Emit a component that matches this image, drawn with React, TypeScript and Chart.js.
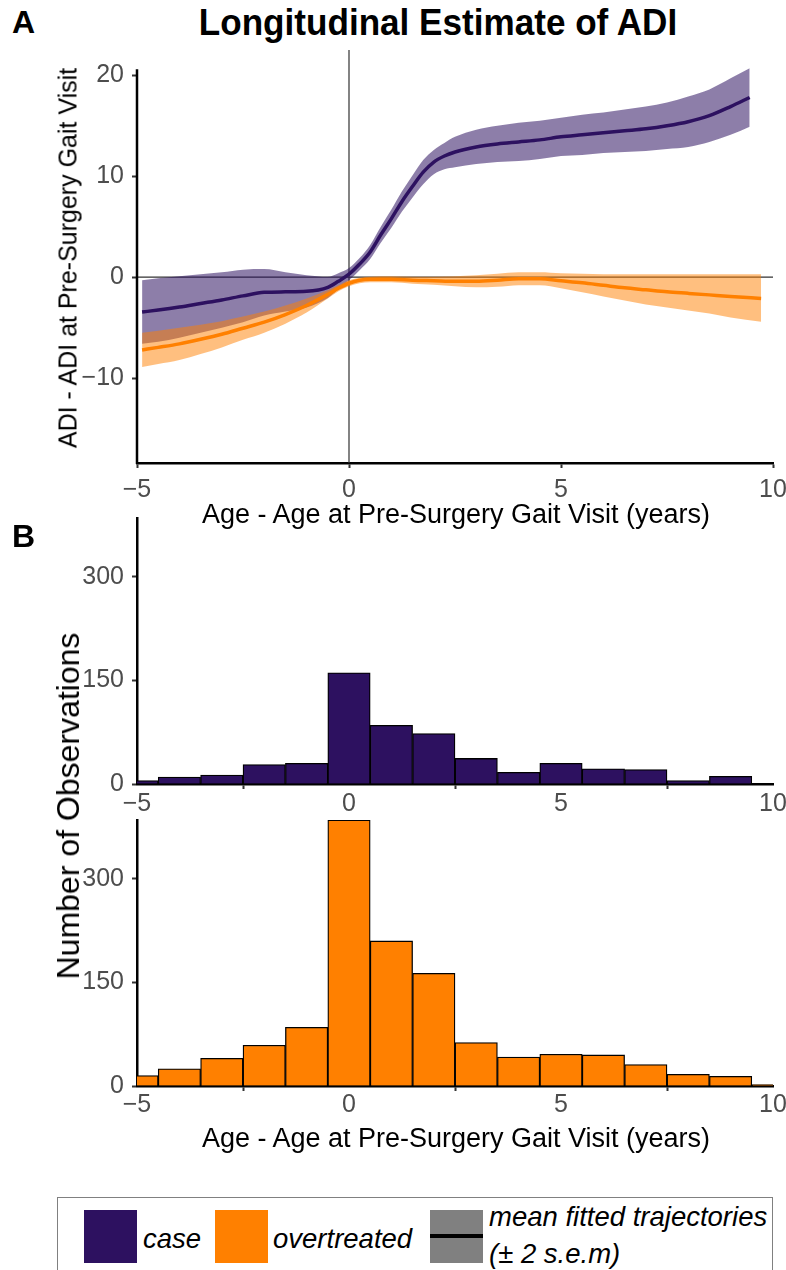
import React, { useEffect, useRef } from "react";
import { Chart, registerables } from "chart.js";
Chart.register(...registerables);

const NARROW = '"Liberation Sans Narrow", "Liberation Sans", Arial, sans-serif';

// ---------- Panel A: fitted trajectories ----------
const caseX = [-4.88, -4.5, -4, -3.5, -3, -2.5, -2, -1.5, -1, -0.5, -0.25, 0, 0.25, 0.5, 0.75, 1, 1.25, 1.5, 1.75, 2, 2.25, 2.5, 3, 3.5, 4, 4.5, 5, 5.5, 6, 6.5, 7, 7.5, 8, 8.5, 9, 9.45];
const caseMean = [-3.45, -3.25, -2.95, -2.6, -2.25, -1.85, -1.5, -1.45, -1.4, -1.0, -0.4, 0.3, 1.3, 2.5, 4.2, 5.8, 7.5, 9.0, 10.4, 11.4, 12.0, 12.4, 12.9, 13.2, 13.4, 13.6, 13.9, 14.1, 14.3, 14.5, 14.7, 15.0, 15.4, 16.0, 16.9, 17.8];
const caseUpper = [-0.3, -0.1, 0.1, 0.3, 0.5, 0.75, 0.8, 0.5, 0.2, 0.05, 0.4, 0.9, 1.9, 3.2, 5.0, 6.7, 8.5, 10.1, 11.6, 12.6, 13.3, 13.9, 14.6, 15.0, 15.3, 15.5, 15.8, 16.1, 16.3, 16.6, 16.9, 17.3, 17.9, 18.6, 19.7, 20.7];
const caseLower = [-6.6, -6.4, -6.0, -5.5, -5.0, -4.45, -3.8, -3.4, -3.0, -2.05, -1.2, -0.3, 0.7, 1.8, 3.4, 4.9, 6.5, 7.9, 9.2, 10.2, 10.7, 10.9, 11.2, 11.4, 11.5, 11.7, 12.0, 12.1, 12.3, 12.4, 12.5, 12.7, 12.9, 13.4, 14.1, 14.9];

const overX = [-4.88, -4.5, -4, -3.5, -3, -2.5, -2, -1.5, -1, -0.5, -0.25, 0, 0.25, 0.5, 1, 1.5, 2, 2.5, 3, 3.5, 4, 4.5, 5, 5.5, 6, 6.5, 7, 7.5, 8, 8.5, 9, 9.72];
const overMean = [-7.2, -6.95, -6.6, -6.15, -5.65, -5.05, -4.45, -3.7, -2.8, -1.7, -1.1, -0.6, -0.3, -0.2, -0.2, -0.3, -0.35, -0.4, -0.4, -0.3, -0.15, -0.15, -0.35, -0.55, -0.8, -1.05, -1.25, -1.45, -1.6, -1.75, -1.9, -2.1];
const overUpper = [-5.5, -5.3, -5.0, -4.7, -4.35, -3.9, -3.4, -2.8, -2.1, -1.3, -0.8, -0.3, -0.05, 0.05, 0.1, 0.05, 0.05, 0.1, 0.2, 0.35, 0.5, 0.5, 0.4, 0.35, 0.3, 0.3, 0.3, 0.3, 0.3, 0.3, 0.3, 0.3];
const overLower = [-8.9, -8.6, -8.2, -7.6, -6.95, -6.2, -5.5, -4.6, -3.5, -2.1, -1.4, -0.9, -0.6, -0.5, -0.5, -0.65, -0.75, -0.9, -1.0, -0.95, -0.8, -0.8, -1.1, -1.5, -1.9, -2.3, -2.7, -3.0, -3.3, -3.6, -4.0, -4.4];

const aXTicks = [-5, 0, 5, 10];
const aYTicks = [-10, 0, 10, 20];

// ---------- Panel B: histograms ----------
const binCenters = [-5, -4, -3, -2, -1, 0, 1, 2, 3, 4, 5, 6, 7, 8, 9, 10];
const caseCounts = [5, 10, 13, 28, 30, 161, 85, 73, 37, 17, 30, 22, 21, 5, 11, 0];
const overCounts = [15, 25, 40, 59, 85, 385, 210, 163, 63, 42, 46, 45, 31, 17, 14, 2];
const bYTicks = [0, 150, 300];

const PURPLE = "#2D1160";
const ORANGE = "#FF8000";
const TICK_COLOR = "#4d4d4d";

const fmt = (v: number) => (v < 0 ? "\u2212" + Math.abs(v) : String(v));
const xy = (xs: number[], ys: number[]) => xs.map((x, i) => ({ x, y: ys[i] }));

function baseX(extraHeight: number, padding: number) {
  return {
    type: "linear",
    min: -5,
    max: 10,
    offset: false,
    afterBuildTicks: (s: any) => {
      s.ticks = aXTicks.map((v) => ({ value: v }));
    },
    afterFit: (s: any) => {
      s.height = extraHeight;
      s.paddingLeft = 0;
      s.paddingRight = 0;
    },
    ticks: {
      font: { family: NARROW, size: 25 },
      color: TICK_COLOR,
      padding,
      maxRotation: 0,
      callback: (v: any) => fmt(Number(v)),
    },
    grid: { display: true, drawOnChartArea: false, drawTicks: true, tickLength: 5, tickWidth: 2, tickColor: "#333" },
    border: { display: true, width: 2.5, color: "#000" },
  };
}

function baseY(min: number, max: number, ticks: number[], borderOn: boolean) {
  return {
    type: "linear",
    min,
    max,
    afterBuildTicks: (s: any) => {
      s.ticks = ticks.map((v) => ({ value: v }));
    },
    afterFit: (s: any) => {
      s.width = 137;
      s.paddingTop = 0;
      s.paddingBottom = 0;
    },
    ticks: {
      font: { family: NARROW, size: 25 },
      color: TICK_COLOR,
      padding: 8,
      callback: (v: any) => fmt(Number(v)),
    },
    grid: { display: true, drawOnChartArea: false, drawTicks: true, tickLength: 5, tickWidth: 2, tickColor: "#333" },
    border: { display: borderOn, width: 2.5, color: "#000" },
  };
}

const refLinesPlugin = {
  id: "refLines",
  beforeDatasetsDraw(chart: any) {
    const { ctx, chartArea, scales } = chart;
    const y0 = scales.y.getPixelForValue(0);
    const x0 = scales.x.getPixelForValue(0);
    ctx.save();
    ctx.strokeStyle = "#333";
    ctx.lineWidth = 1.2;
    ctx.beginPath();
    ctx.moveTo(chartArea.left, y0);
    ctx.lineTo(chartArea.right, y0);
    ctx.moveTo(x0, chartArea.top);
    ctx.lineTo(x0, chartArea.bottom);
    ctx.stroke();
    ctx.restore();
  },
  afterDraw(chart: any) {
    const { ctx, chartArea, scales } = chart;
    const top = scales.y.getPixelForValue(20.6);
    ctx.save();
    ctx.strokeStyle = "#000";
    ctx.lineWidth = 2.5;
    ctx.beginPath();
    ctx.moveTo(chartArea.left, top);
    ctx.lineTo(chartArea.left, chartArea.bottom + 1);
    ctx.stroke();
    ctx.restore();
  },
};

function PanelA() {
  const ref = useRef<HTMLCanvasElement>(null);
  useEffect(() => {
    const band = (data: any, color: string, fill: any) => ({
      type: "line",
      data,
      borderWidth: 0,
      borderColor: "rgba(0,0,0,0)",
      backgroundColor: color,
      pointRadius: 0,
      fill,
      cubicInterpolationMode: "monotone",
    });
    const chart = new Chart(ref.current as HTMLCanvasElement, {
      type: "line",
      data: {
        datasets: [
          { label: "case", data: xy(caseX, caseMean), borderColor: PURPLE, borderWidth: 3.5, pointRadius: 0, fill: false, cubicInterpolationMode: "monotone" },
          { label: "overtreated", data: xy(overX, overMean), borderColor: ORANGE, borderWidth: 3.5, pointRadius: 0, fill: false, cubicInterpolationMode: "monotone" },
          band(xy(overX, overUpper), "rgba(255,128,0,0.5)", "+1"),
          band(xy(overX, overLower), "rgba(255,128,0,0.5)", false),
          band(xy(caseX, caseUpper), "rgba(45,17,96,0.54)", "+1"),
          band(xy(caseX, caseLower), "rgba(45,17,96,0.54)", false),
        ] as any,
      },
      options: {
        animation: false,
        responsive: false,
        maintainAspectRatio: false,
        layout: { padding: { left: 0, right: 13, top: 10, bottom: 0 } },
        plugins: { legend: { display: false }, tooltip: { enabled: false } },
        scales: {
          x: baseX(67, 7) as any,
          y: baseY(-18.4, 22.5, aYTicks, false) as any,
        },
      },
      plugins: [refLinesPlugin],
    });
    return () => chart.destroy();
  }, []);
  return <canvas ref={ref} width={786} height={490} style={{ position: "absolute", left: 0, top: 40, width: 786, height: 490 }} />;
}

function Hist({ counts, color, top, height, xHeight, pad }: { counts: number[]; color: string; top: number; height: number; xHeight: number; pad: number }) {
  const ref = useRef<HTMLCanvasElement>(null);
  useEffect(() => {
    const chart = new Chart(ref.current as HTMLCanvasElement, {
      type: "bar",
      data: {
        datasets: [
          {
            data: binCenters.map((x, i) => ({ x, y: counts[i] })),
            backgroundColor: color,
            borderColor: "#000",
            borderWidth: 1.3,
            categoryPercentage: 1,
            barPercentage: 1,
          },
        ] as any,
      },
      options: {
        animation: false,
        responsive: false,
        maintainAspectRatio: false,
        layout: { padding: { left: 0, right: 13, top: 10, bottom: 0 } },
        plugins: { legend: { display: false }, tooltip: { enabled: false } },
        scales: {
          x: baseX(xHeight, pad) as any,
          y: baseY(0, 385, bYTicks, true) as any,
        },
      },
    });
    return () => chart.destroy();
  }, []);
  return <canvas ref={ref} width={786} height={height} style={{ position: "absolute", left: 0, top, width: 786, height }} />;
}

const abs = (extra: React.CSSProperties): React.CSSProperties => ({ position: "absolute", whiteSpace: "nowrap", fontFamily: NARROW, color: "#000", ...extra });

function RotLabel({ text, cx, cy, size }: { text: string; cx: number; cy: number; size: number }) {
  return (
    <div style={abs({ left: cx, top: cy, fontSize: size, transform: "translate(-50%,-50%) rotate(-90deg)", lineHeight: 1 })}>{text}</div>
  );
}
function CLabel({ text, cx, cy, size = 27, bold = false, sx = 1 }: { text: string; cx: number; cy: number; size?: number; bold?: boolean; sx?: number }) {
  return (
    <div style={abs({ left: cx, top: cy, fontSize: size, fontWeight: bold ? 700 : 400, transform: `translate(-50%,-50%) scaleX(${sx})`, lineHeight: 1 })}>{text}</div>
  );
}

export default function App() {
  const sw = (bg: string, left: number, line = false) => (
    <div style={{ position: "absolute", left, top: 12, width: 53, height: 53, background: bg }}>
      {line && <div style={{ position: "absolute", left: 0, top: 24, width: 53, height: 4, background: "#000" }} />}
    </div>
  );
  const legText: React.CSSProperties = { position: "absolute", fontFamily: NARROW, fontStyle: "italic", fontSize: 27.5, whiteSpace: "nowrap", lineHeight: 1 };
  return (
    <div style={{ position: "absolute", left: 0, top: 0, width: 786, height: 1270, background: "#fff", overflow: "hidden" }}>
      <div style={abs({ left: 12, top: 6, fontSize: 32, fontWeight: 700, fontFamily: '"Liberation Sans", Arial, sans-serif', lineHeight: 1 })}>A</div>
      <CLabel text="Longitudinal Estimate of ADI" cx={438} cy={23} size={36} bold sx={0.975} />
      <PanelA />
      <RotLabel text="ADI - ADI at Pre-Surgery Gait Visit" cx={68} cy={258} size={25} />
      <CLabel text="Age - Age at Pre-Surgery Gait Visit (years)" cx={456} cy={514} />
      <div style={abs({ left: 12, top: 520, fontSize: 32, fontWeight: 700, fontFamily: '"Liberation Sans", Arial, sans-serif', lineHeight: 1 })}>B</div>
      <Hist counts={caseCounts} color={PURPLE} top={508} height={330} xHeight={54} pad={0} />
      <Hist counts={overCounts} color={ORANGE} top={810} height={350} xHeight={74} pad={-1} />
      <RotLabel text="Number of Observations" cx={68} cy={806} size={32} />
      <CLabel text="Age - Age at Pre-Surgery Gait Visit (years)" cx={456} cy={1138} />
      <div style={{ position: "absolute", left: 57, top: 1197, width: 716, height: 100, border: "1px solid #808080", boxSizing: "border-box" }}>
        {sw(PURPLE, 26)}
        <div style={{ ...legText, left: 85, top: 27 }}>case</div>
        {sw(ORANGE, 157)}
        <div style={{ ...legText, left: 215, top: 27 }}>overtreated</div>
        {sw("#808080", 372, true)}
        <div style={{ ...legText, left: 431, top: 5 }}>mean fitted trajectories</div>
        <div style={{ ...legText, left: 431, top: 42 }}>(± 2 s.e.m)</div>
      </div>
    </div>
  );
}
